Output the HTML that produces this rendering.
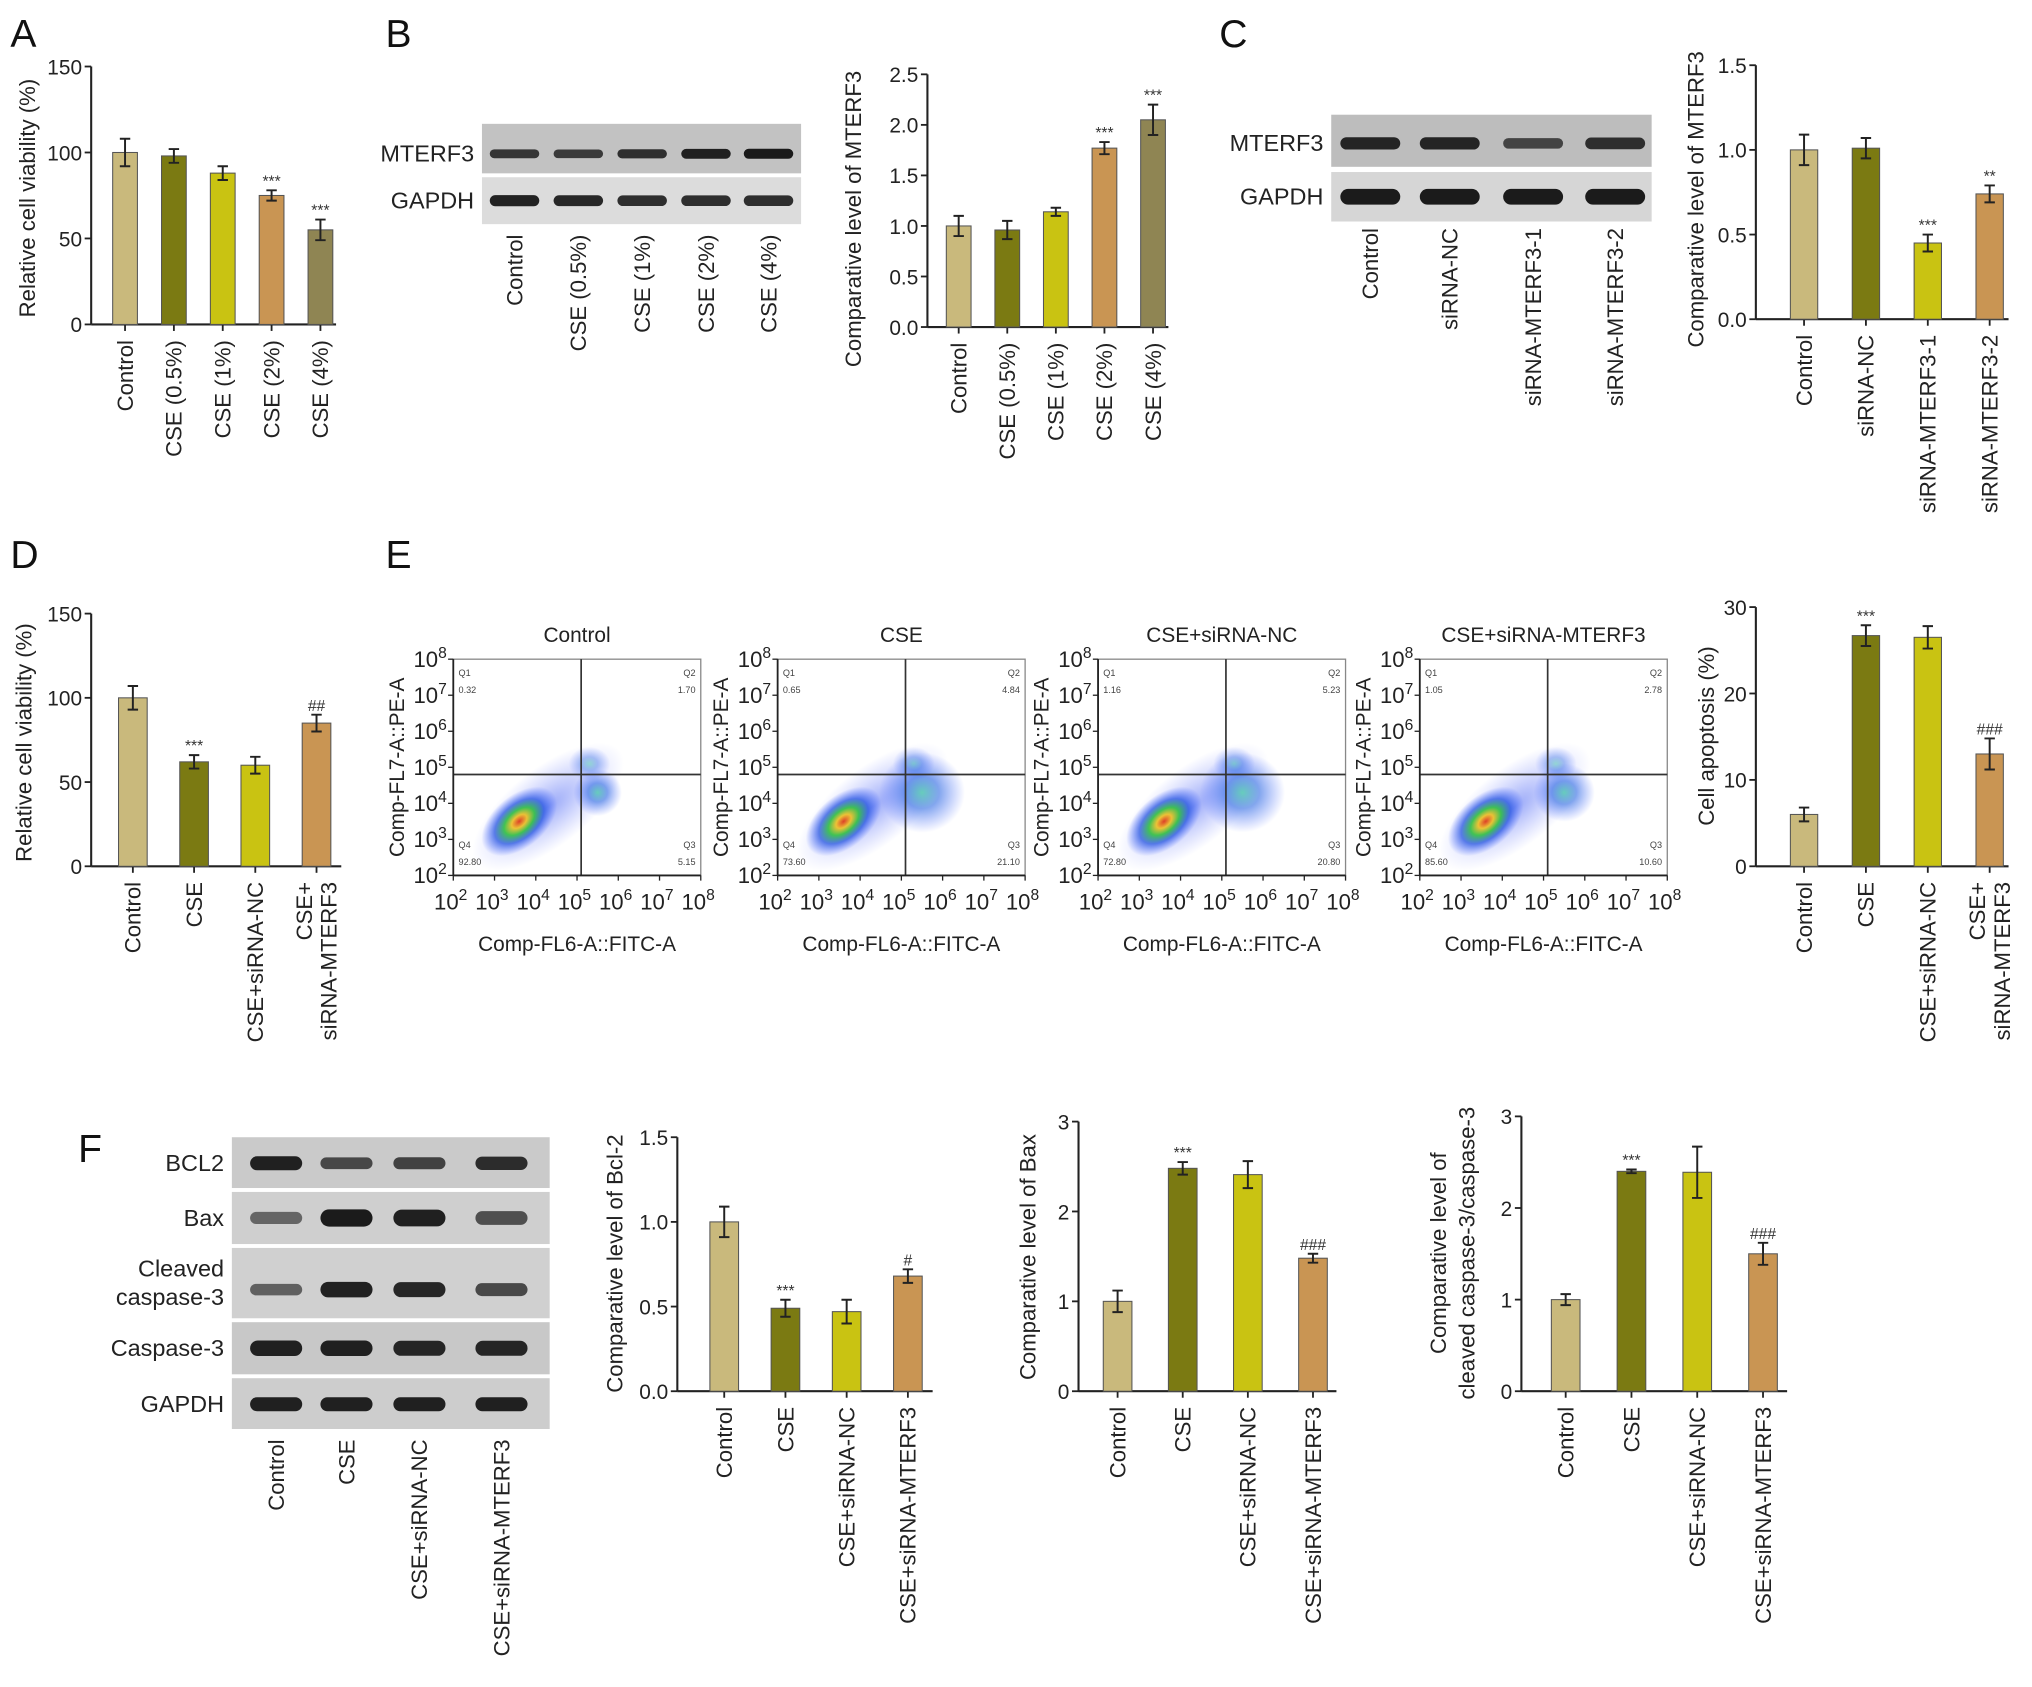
<!DOCTYPE html>
<html><head><meta charset="utf-8">
<style>
html,body{margin:0;padding:0;background:#fff;}
svg{display:block;font-family:"Liberation Sans",Arial,sans-serif;}
</style></head>
<body>
<svg id="fig" width="2032" height="1687" viewBox="0 0 1560 1295" xmlns="http://www.w3.org/2000/svg">
<defs>
<radialGradient id="dens" cx="50%" cy="50%" r="50%">
<stop offset="0" stop-color="#e03010"/>
<stop offset="0.2" stop-color="#f0c020"/>
<stop offset="0.4" stop-color="#30c040"/>
<stop offset="0.65" stop-color="#2050e0" stop-opacity="0.8"/>
<stop offset="1" stop-color="#4060ff" stop-opacity="0"/>
</radialGradient>
<radialGradient id="dens2" cx="50%" cy="50%" r="50%">
<stop offset="0" stop-color="#30c0a0"/>
<stop offset="0.4" stop-color="#2060e0" stop-opacity="0.8"/>
<stop offset="1" stop-color="#4060ff" stop-opacity="0"/>
</radialGradient>
<radialGradient id="halo" cx="50%" cy="50%" r="50%">
<stop offset="0" stop-color="#3050f0" stop-opacity="0.5"/>
<stop offset="1" stop-color="#6070ff" stop-opacity="0"/>
</radialGradient>
</defs>
</svg>
<script>
// ---------- data ----------
const catA = ["Control","CSE (0.5%)","CSE (1%)","CSE (2%)","CSE (4%)"];
const valA = [100,98,88,75,55];
const errA = [8,4,4,3,6];
const sigA = ["","","","***","***"];

const catB = ["Control","CSE (0.5%)","CSE (1%)","CSE (2%)","CSE (4%)"];
const valB = [1.0,0.96,1.14,1.77,2.05];
const errB = [0.1,0.09,0.04,0.06,0.15];
const sigB = ["","","","***","***"];

const catC = ["Control","siRNA-NC","siRNA-MTERF3-1","siRNA-MTERF3-2"];
const valC = [1.0,1.01,0.45,0.74];
const errC = [0.09,0.06,0.05,0.05];
const sigC = ["","","***","**"];

const catD = ["Control","CSE","CSE+siRNA-NC","CSE+|siRNA-MTERF3"];
const valD = [100,62,60,85];
const errD = [7,4,5,5];
const sigD = ["","***","","##"];

const catE = ["Control","CSE","CSE+siRNA-NC","CSE+|siRNA-MTERF3"];
const valE = [6,26.7,26.5,13];
const errE = [0.8,1.2,1.3,1.8];
const sigE = ["","***","","###"];

const catF = ["Control","CSE","CSE+siRNA-NC","CSE+siRNA-MTERF3"];
const valF1 = [1.0,0.49,0.47,0.68];
const errF1 = [0.09,0.05,0.07,0.04];
const sigF1 = ["","***","","#"];
const valF2 = [1.0,2.48,2.41,1.48];
const errF2 = [0.12,0.07,0.15,0.05];
const sigF2 = ["","***","","###"];
const valF3 = [1.0,2.4,2.39,1.5];
const errF3 = [0.06,0.02,0.28,0.12];
const sigF3 = ["","***","","###"];

const flowTitles = ["Control","CSE","CSE+siRNA-NC","CSE+siRNA-MTERF3"];
const flowQ1 = ["0.32","0.65","1.16","1.05"];
const flowQ2 = ["1.70","4.84","5.23","2.78"];
const flowQ3 = ["5.15","21.10","20.80","10.60"];
const flowQ4 = ["92.80","73.60","72.80","85.60"];

const blotB_M = [0.75,0.7,0.8,0.95,1.0];
const blotB_G = [0.95,0.9,0.85,0.85,0.85];
const blotC_M = [0.9,0.9,0.6,0.8];
const blotC_G = [1,1,1,1];
const blotF = {BCL2:[0.95,0.6,0.65,0.85],Bax:[0.35,1,0.95,0.55],Cl:[0.4,0.95,0.9,0.6],C3:[0.95,0.95,0.9,0.9],G:[0.95,0.95,0.95,0.95]};

const barCols4 = ["#c9b97c","#7b7a12","#c9c312","#c99553"];
const barCols5 = ["#c9b97c","#7b7a12","#c9c312","#c99553","#8f8553"];

// ---------- helpers ----------
const NS="http://www.w3.org/2000/svg";
const svg=document.getElementById('fig');
function mk(tag,attrs,parent,text){
  const e=document.createElementNS(NS,tag);
  for(const k in attrs) e.setAttribute(k,attrs[k]);
  if(text!==undefined) e.textContent=text;
  (parent||svg).appendChild(e);
  return e;
}
function group(name){
  const g=mk('g',{});
  
  
  return g;
}
function panelLetter(t,x,y){
  const e=mk('text',{x:x,y:y,'font-size':30,fill:'#111'},svg,t);
  
  
}

function barChart(o){
  const g=group(o.name);
  const y=v=>o.y0-(v-0)/(o.ymax)*(o.y0-o.ytop);
  const n=o.vals.length;
  const x=i=>o.xs+i*o.step;
  const ya=mk('line',{x1:o.ax,y1:o.ytop,x2:o.ax,y2:o.y0,stroke:'#222','stroke-width':1.6},g);
  
  
  const xa=mk('line',{x1:o.ax,y1:o.y0,x2:o.xend,y2:o.y0,stroke:'#222','stroke-width':1.6},g);
  
  
  o.ticks.forEach((t,k)=>{
    mk('line',{x1:o.ax-5,y1:y(t),x2:o.ax,y2:y(t),stroke:'#222','stroke-width':1.4},g);
    const tl=mk('text',{x:o.ax-7,y:y(t)+6,'font-size':16,'text-anchor':'end',fill:'#222'},g,o.tickLabels[k]);
    
    
  });
  for(let i=0;i<n;i++){
    mk('line',{x1:x(i),y1:o.y0,x2:x(i),y2:o.y0+5,stroke:'#222','stroke-width':1.4},g);
    const b=mk('rect',{x:x(i)-o.bw/2,y:y(o.vals[i]),width:o.bw,height:o.y0-y(o.vals[i]),fill:o.cols[i],stroke:'#555','stroke-width':0.8},g);
    
    
    const yt=y(o.vals[i]+o.errs[i]), yb=y(o.vals[i]-o.errs[i]);
    const eb=mk('path',{d:`M${x(i)} ${yt}V${yb}M${x(i)-4} ${yt}H${x(i)+4}M${x(i)-4} ${yb}H${x(i)+4}`,stroke:'#222','stroke-width':1.5,fill:'none'},g);
    
    
    if(o.sig[i]){
      const s=mk('text',{x:x(i),y:yt-3,'font-size':12,'text-anchor':'middle',fill:'#333'},g,o.sig[i]);
      
      
    }
    const parts=o.cats[i].split('|');
    parts.forEach((p,j)=>{
      const xx=x(i)+(j-(parts.length-1)/2)*19+6;
      const l=mk('text',{x:xx,y:o.y0+12,'font-size':17,'text-anchor':'end',fill:'#222',transform:`rotate(-90 ${xx} ${o.y0+12})`},g,p);
      
      
    });
  }
  const lines=o.ylabel.split('|');
  lines.forEach((p,j)=>{
    const lx=o.lx+j*22;
    const t=mk('text',{x:lx,y:o.ly,'font-size':17,'text-anchor':'middle',fill:'#222',transform:`rotate(-90 ${lx} ${o.ly})`},g,p);
    
    
  });
}

function blot(o){
  const g=group(o.name);
  o.strips.forEach((s,k)=>{
    const r=mk('rect',{x:o.x,y:s.y,width:o.w,height:s.h,fill:s.bg||'#cfcfcf'},g);
    
    
    s.ints.forEach((v,i)=>{
      const cx=o.lanes[i];
      const bh=s.bh*(0.6+0.5*v);
      mk('rect',{x:cx-o.lw/2,y:s.by-bh/2,width:o.lw,height:bh,rx:bh/2,fill:'#111','fill-opacity':0.35+0.6*v},g);
    });
    const lines=s.label.split('|');
    const cy=(s.label.indexOf('|')>=0)? s.y+s.h/2 : s.by;
    lines.forEach((p,j)=>{
      const t=mk('text',{x:o.x-6,y:cy+6+(j-(lines.length-1)/2)*22,'font-size':18,'text-anchor':'end',fill:'#222'},g,p);
      
      
    });
  });
  o.cats.forEach((c,i)=>{
    const xx=o.lanes[i]+6;
    const t=mk('text',{x:xx,y:o.ly,'font-size':17,'text-anchor':'end',fill:'#222',transform:`rotate(-90 ${xx} ${o.ly})`},g,c);
    
    
  });
}

function flowPlot(i,x0){
  const g=group('flow-plot-'+i);
  const x1=x0+190, yT=506, yB=672;
  const dx=(x1-x0)/6, dy=(yB-yT)/6;
  const X=d=>x0+(d-2)*dx, Y=d=>yB-(d-2)*dy;
  const t=mk('text',{x:(x0+x1)/2,y:493,'font-size':16,'text-anchor':'middle',fill:'#222'},g,flowTitles[i]);
  
  
  mk('rect',{x:x0,y:yT,width:x1-x0,height:yB-yT,fill:'#fff',stroke:'#888','stroke-width':1},g);
  const q3=parseFloat(flowQ3[i]);
  mk('ellipse',{cx:X(4.3),cy:Y(3.9),rx:70,ry:30,fill:'url(#halo)',transform:`rotate(-38 ${X(4.3)} ${Y(3.9)})`},g);
  mk('ellipse',{cx:X(3.6),cy:Y(3.5),rx:34,ry:20,fill:'url(#dens)',transform:`rotate(-40 ${X(3.6)} ${Y(3.5)})`,opacity:0.9},g);
  mk('ellipse',{cx:X(5.5),cy:Y(4.3),rx:14+q3*0.9,ry:14+q3*0.8,fill:'url(#dens2)',opacity:0.7},g);
  mk('ellipse',{cx:X(5.3),cy:Y(5.1),rx:16,ry:13,fill:'url(#dens2)',opacity:0.45},g);
  mk('line',{x1:X(5.1),y1:yT,x2:X(5.1),y2:yB,stroke:'#333','stroke-width':1.3},g);
  mk('line',{x1:x0,y1:Y(4.8),x2:x1,y2:Y(4.8),stroke:'#333','stroke-width':1.3},g);
  mk('line',{x1:x0,y1:yT,x2:x0,y2:yB,stroke:'#222','stroke-width':1.4},g);
  mk('line',{x1:x0,y1:yB,x2:x1,y2:yB,stroke:'#222','stroke-width':1.4},g);
  for(let d=2;d<=8;d++){
    mk('line',{x1:x0-4,y1:Y(d),x2:x0,y2:Y(d),stroke:'#222'},g);
    mk('line',{x1:X(d),y1:yB,x2:X(d),y2:yB+4,stroke:'#222'},g);
    const yl=mk('text',{x:x0-5,y:Y(d)+6,'font-size':17,'text-anchor':'end',fill:'#222'},g);
    
    
    mk('tspan',{},yl,'10');
    mk('tspan',{dy:-7,'font-size':12},yl,String(d));
    const xl=mk('text',{x:X(d)-2,y:yB+26,'font-size':17,'text-anchor':'middle',fill:'#222'},g);
    
    
    mk('tspan',{},xl,'10');
    mk('tspan',{dy:-7,'font-size':12},xl,String(d));
  }
  const q=(txt,xx,yy,anc)=>{const e=mk('text',{x:xx,y:yy,'font-size':7,'text-anchor':anc,fill:'#444'},g,txt);
    
    };
  q('Q1',x0+4,yT+13,'start'); q(flowQ1[i],x0+4,yT+26,'start');
  q('Q2',x1-4,yT+13,'end'); q(flowQ2[i],x1-4,yT+26,'end');
  q('Q4',x0+4,yB-21,'start'); q(flowQ4[i],x0+4,yB-8,'start');
  q('Q3',x1-4,yB-21,'end'); q(flowQ3[i],x1-4,yB-8,'end');
  const xt=mk('text',{x:(x0+x1)/2,y:730,'font-size':16,'text-anchor':'middle',fill:'#222'},g,'Comp-FL6-A::FITC-A');
  
  
  const lx=x0-38, ly=589;
  const yt=mk('text',{x:lx,y:ly,'font-size':16,'text-anchor':'middle',fill:'#222',transform:`rotate(-90 ${lx} ${ly})`},g,'Comp-FL7-A::PE-A');
  
  
}

// ---------- panels ----------
panelLetter('A',8,36); panelLetter('B',296,36); panelLetter('C',936,36);
panelLetter('D',8,436); panelLetter('E',296,436); panelLetter('F',60,892);

barChart({name:'chart-a',cats:catA,vals:valA,errs:errA,sig:sigA,cols:barCols5,ax:70,y0:249,ytop:51,ymax:150,ticks:[0,50,100,150],tickLabels:['0','50','100','150'],xs:96,step:37.5,bw:19,xend:258,ylabel:'Relative cell viability (%)',lx:27,ly:152});

blot({name:'blot-b',x:370,w:245,lanes:[395,444,493,542,590],lw:38,ly:180,cats:catB,
  strips:[{y:95,h:38,by:118,bh:7,ints:blotB_M,label:'MTERF3',bg:'#c2c2c2'},{y:136,h:36,by:154,bh:8,ints:blotB_G,label:'GAPDH',bg:'#dcdcdc'}]});
barChart({name:'chart-b',cats:catB,vals:valB,errs:errB,sig:sigB,cols:barCols5,ax:712,y0:251,ytop:57,ymax:2.5,ticks:[0,0.5,1,1.5,2,2.5],tickLabels:['0.0','0.5','1.0','1.5','2.0','2.5'],xs:736,step:37.3,bw:19,xend:897,ylabel:'Comparative level of MTERF3',lx:661,ly:168});

blot({name:'blot-c',x:1022,w:246,lanes:[1052,1113,1177,1240],lw:46,ly:175,cats:catC,
  strips:[{y:88,h:40,by:110,bh:9,ints:blotC_M,label:'MTERF3',bg:'#bdbdbd'},{y:132,h:38,by:151,bh:11,ints:blotC_G,label:'GAPDH',bg:'#d6d6d6'}]});
barChart({name:'chart-c',cats:catC,vals:valC,errs:errC,sig:sigC,cols:barCols4,ax:1348,y0:245,ytop:50,ymax:1.5,ticks:[0,0.5,1,1.5],tickLabels:['0.0','0.5','1.0','1.5'],xs:1385,step:47.5,bw:21,xend:1542,ylabel:'Comparative level of MTERF3',lx:1308,ly:153});

barChart({name:'chart-d',cats:catD,vals:valD,errs:errD,sig:sigD,cols:barCols4,ax:70,y0:665,ytop:471,ymax:150,ticks:[0,50,100,150],tickLabels:['0','50','100','150'],xs:102,step:47,bw:22,xend:262,ylabel:'Relative cell viability (%)',lx:24,ly:570});

[348,597,843,1090].forEach((x,i)=>flowPlot(i,x));

barChart({name:'chart-e',cats:catE,vals:valE,errs:errE,sig:sigE,cols:barCols4,ax:1348,y0:665,ytop:466,ymax:30,ticks:[0,10,20,30],tickLabels:['0','10','20','30'],xs:1385,step:47.5,bw:21,xend:1542,ylabel:'Cell apoptosis (%)',lx:1316,ly:565});

blot({name:'blot-f',x:178,w:244,lanes:[212,266,322,385],lw:40,ly:1105,cats:catF,
  strips:[{y:873,h:39,by:893,bh:10,ints:blotF.BCL2,label:'BCL2',bg:'#cacaca'},
          {y:915,h:40,by:935,bh:12,ints:blotF.Bax,label:'Bax',bg:'#cfcfcf'},
          {y:958,h:54,by:990,bh:11,ints:blotF.Cl,label:'Cleaved|caspase-3',bg:'#d0d0d0'},
          {y:1015,h:40,by:1035,bh:11,ints:blotF.C3,label:'Caspase-3',bg:'#c8c8c8'},
          {y:1058,h:39,by:1078,bh:10,ints:blotF.G,label:'GAPDH',bg:'#cdcdcd'}]});

barChart({name:'chart-f-bcl2',cats:catF,vals:valF1,errs:errF1,sig:sigF1,cols:barCols4,ax:520,y0:1068,ytop:873,ymax:1.5,ticks:[0,0.5,1,1.5],tickLabels:['0.0','0.5','1.0','1.5'],xs:556,step:47,bw:22,xend:716,ylabel:'Comparative level of Bcl-2',lx:478,ly:970});
barChart({name:'chart-f-bax',cats:catF,vals:valF2,errs:errF2,sig:sigF2,cols:barCols4,ax:828,y0:1068,ytop:861,ymax:3,ticks:[0,1,2,3],tickLabels:['0','1','2','3'],xs:858,step:50,bw:22,xend:1026,ylabel:'Comparative level of Bax',lx:795,ly:965});
barChart({name:'chart-f-caspase',cats:catF,vals:valF3,errs:errF3,sig:sigF3,cols:barCols4,ax:1168,y0:1068,ytop:857,ymax:3,ticks:[0,1,2,3],tickLabels:['0','1','2','3'],xs:1202,step:50.5,bw:22,xend:1372,ylabel:'Comparative level of|cleaved caspase-3/caspase-3',lx:1110,ly:962});
</script>
</body></html>
